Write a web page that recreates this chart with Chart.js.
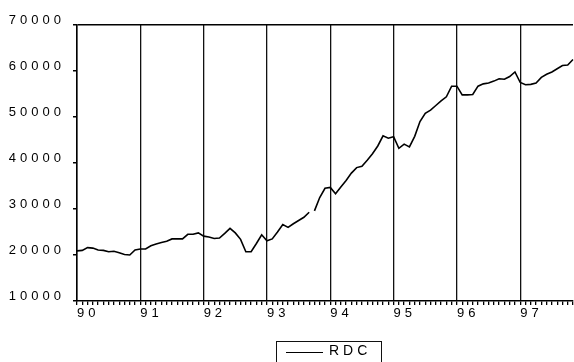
<!DOCTYPE html>
<html>
<head>
<meta charset="UTF-8">
<title>RDC</title>
<script src="https://cdn.jsdelivr.net/npm/chart.js"></script>
<style>
body { margin: 0; background: #fff; font-family: "Liberation Sans", Arial, sans-serif; }
#wrap { position: relative; width: 574px; height: 362px; overflow: hidden; }
#legend { position: absolute; left: 276px; top: 341px; width: 106px; height: 30px; border: 1px solid #111; box-sizing: border-box; }
#legend .swatch { position: absolute; left: 9px; top: 10px; width: 37px; border-top: 1.5px solid #000; }
#legend .text { position: absolute; left: 52px; top: 0px; font-size: 14px; letter-spacing: 4px; color: #000; }
</style>
</head>
<body>
<div id="wrap">
  <canvas id="chart"></canvas>
  <div id="legend"></div>
</div>
<script>
// Years on the axis, monthly observations from 1990M01
const years  = ['90', '91', '92', '93', '94', '95', '96', '97'];
const months = ['01', '02', '03', '04', '05', '06', '07', '08', '09', '10', '11', '12'];

// RDC, monthly values (1990M01 .. 1997M11)
const rdc = [
    20900, 21000, 21600, 21500, 21100, 21000, 20700, 20800, 20500, 20100, 20000, 21100,
    21300, 21300, 22000, 22400, 22700, 23000, 23500, 23500, 23500, 24500, 24500, 24800,
    24100, 23900, 23600, 23700, 24700, 25800, 24800, 23400, 20700, 20700, 22500, 24400,
    23100, 23500, 25000, 26600, 26000, 26800, 27500, 28200, 29300, 29600, 32500, 34500,
    34700, 33300, 34800, 36200, 37800, 39000, 39300, 40600, 42000, 43700, 45900, 45400,
    45700, 43200, 44100, 43500, 45800, 49000, 50800, 51500, 52500, 53500, 54400, 56700,
    56700, 54800, 54800, 54900, 56700, 57200, 57400, 57800, 58300, 58200, 58800, 59800,
    57500, 57000, 57100, 57400, 58600, 59300, 59800, 60500, 61200, 61300, 62500
];

// observation after which the line is broken
const breaksAfter = [44];

const yTicks = [10000, 20000, 30000, 40000, 50000, 60000, 70000];

const labels = [];
years.forEach((y) => months.forEach((m) => labels.push(y + 'M' + m)));
labels.length = rdc.length;

const spacing = {
    id: 'spacing',
    beforeLayout: (chart) => { chart.ctx.letterSpacing = '4px'; },
    beforeDraw: (chart) => { chart.ctx.letterSpacing = '4px'; }
};

const tickFont = {family: '"Liberation Sans", Arial, sans-serif', size: 13};

const chart = new Chart(document.getElementById('chart'), {
    type: 'line',
    data: {
        labels: labels,
        datasets: [{
            label: 'RDC',
            data: rdc,
            borderColor: '#000',
            borderWidth: 1.6,
            pointRadius: 0,
            tension: 0,
            fill: false,
            segment: {
                borderColor: (ctx) => breaksAfter.includes(ctx.p0DataIndex) ? 'transparent' : '#000'
            }
        }]
    },
    options: {
        responsive: true,
        maintainAspectRatio: false,
        animation: false,
        events: [],
        layout: {padding: {top: 25, left: 0, right: 0, bottom: 0}},
        plugins: {legend: {display: false}, tooltip: {enabled: false}},
        scales: {
            x: {
                type: 'category',
                offset: false,
                afterFit: (scale) => { scale.height = 61; },
                border: {color: '#000', width: 1.5},
                grid: {
                    color: (ctx) => (ctx.index % 12 === 0 ? '#111' : 'transparent'),
                    lineWidth: 1.3,
                    tickColor: '#000',
                    tickLength: 4,
                    drawOnChartArea: true
                },
                ticks: {
                    autoSkip: false,
                    maxRotation: 0,
                    minRotation: 0,
                    align: 'start',
                    padding: 1,
                    color: '#000',
                    font: tickFont,
                    callback: (value, index) => (index % 12 === 0 ? years[index / 12] : '')
                }
            },
            y: {
                min: yTicks[0],
                max: yTicks[yTicks.length - 1],
                afterFit: (scale) => { scale.width = 77; },
                afterBuildTicks: (scale) => { scale.ticks = yTicks.map((v) => ({value: v})); },
                border: {color: '#000', width: 1.5},
                grid: {
                    color: (ctx) => (ctx.tick && ctx.tick.value === yTicks[yTicks.length - 1] ? '#000' : 'transparent'),
                    lineWidth: 1.5,
                    tickColor: '#000',
                    tickLength: 4
                },
                ticks: {
                    padding: 8,
                    labelOffset: -5,
                    color: '#000',
                    font: tickFont,
                    callback: (value) => String(value)
                }
            }
        }
    },
    plugins: [spacing]
});

// boxed legend under the plot
const legend = document.getElementById('legend');
chart.data.datasets.forEach((ds) => {
    legend.innerHTML += '<div class="swatch"></div><div class="text">' + ds.label + '</div>';
});
</script>
</body>
</html>
